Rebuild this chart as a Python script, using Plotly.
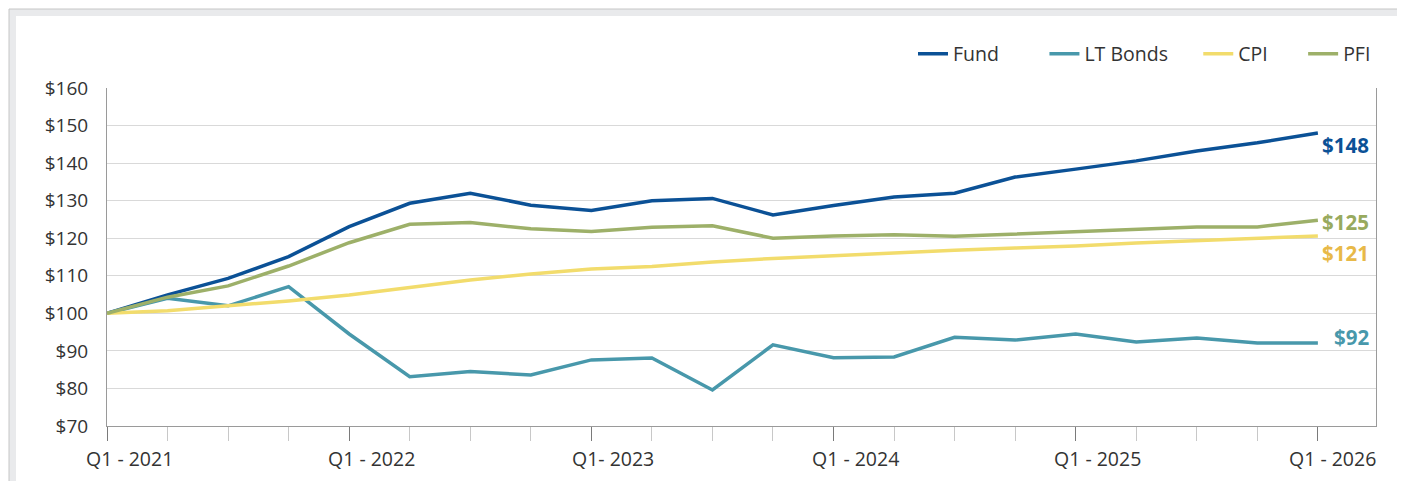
import plotly.graph_objects as go

quarters = list(range(21))
tick_positions = [0, 4, 8, 12, 16, 20]
tick_labels = ["Q1 - 2021", "Q1 - 2022", "Q1- 2023", "Q1 - 2024", "Q1 - 2025", "Q1 - 2026"]

fund = [100, 104.9, 109.3, 115.1, 123.1, 129.3, 132.0, 128.8, 127.4, 130.0, 130.6, 126.2,
        128.7, 131.0, 132.0, 136.3, 138.4, 140.6, 143.2, 145.4, 148.0]
lt_bonds = [100, 104.0, 102.0, 107.1, 94.5, 83.1, 84.5, 83.6, 87.6, 88.1, 79.6, 91.6,
            88.2, 88.4, 93.6, 92.9, 94.5, 92.4, 93.4, 92.1, 92.1]
cpi = [100, 100.7, 102.0, 103.3, 104.9, 107.0, 108.9, 110.5, 111.8, 112.5, 113.7, 114.6,
       115.4, 116.2, 116.8, 117.4, 117.9, 118.7, 119.3, 120.0, 120.6]
pfi = [100, 104.3, 107.3, 112.6, 118.8, 123.7, 124.2, 122.5, 121.8, 122.9, 123.3, 120.0,
       120.6, 120.9, 120.5, 121.1, 121.6, 122.4, 123.0, 123.0, 124.8]

NB = "\u00a0"
series = [
    ("Fund", fund, "#0b5196", 8),
    ("LT Bonds", lt_bonds, "#4898ab", 5),
    ("CPI", cpi, "#f2dc6c", 6),
    ("PFI", pfi, "#9db069", 0),
]
end_labels = [
    ("$148", fund[-1], "#0b5196", -12),
    ("$125", pfi[-1], "#98aa5e", -2),
    ("$121", cpi[-1], "#e8b948", -17),
    ("$92", lt_bonds[-1], "#4898ab", 6),
]

FONT = "Open Sans"
OFF = 8  # default page body margin
FW, FH = 1405 - OFF, 481 - OFF

fig = go.Figure()
for name, vals, col, pad in series:
    fig.add_trace(go.Scatter(x=quarters, y=vals, mode="lines", name=name + NB * pad,
                             line=dict(color=col, width=3.5)))

# plot area geometry in page px
L, R, T, B = 107, 1376, 88, 426
W, H = R - L, B - T
def px_x(p):
    return (p - L) / W
def px_y(p):
    return (B - p) / H

shapes = [
    dict(type="rect", xref="paper", yref="paper", x0=px_x(9), x1=px_x(1420), y0=px_y(500), y1=px_y(9),
         fillcolor="#e9eaec", line=dict(color="#c6c6c6", width=1), layer="below"),
    dict(type="rect", xref="paper", yref="paper", x0=px_x(16), x1=px_x(1420), y0=px_y(500), y1=px_y(16),
         fillcolor="#ffffff", line=dict(width=0), layer="below"),
]

annotations = []
for txt, v, col, ys in end_labels:
    annotations.append(dict(text="<b>" + txt + "</b>", x=px_x(1371), xref="paper", y=v, yref="y",
                            xanchor="right", yanchor="middle", yshift=ys, showarrow=False,
                            font=dict(family=FONT, size=20.5, color=col)))

# x tick labels (offset to the right of their ticks, last one kept inside the frame)
for i, (pos, lab) in enumerate(zip(tick_positions, tick_labels)):
    last = i == len(tick_positions) - 1
    annotations.append(dict(text=lab, xref="paper" if last else "x",
                            x=px_x(1378) if last else pos,
                            xanchor="right" if last else "center", xshift=0 if last else 22,
                            yref="paper", y=px_y(458), yanchor="middle", showarrow=False,
                            font=dict(family=FONT, size=19.5, color="#333333")))

fig.update_layout(
    width=FW, height=FH,
    margin=dict(l=L - OFF, r=1405 - R, t=T - OFF, b=481 - B),
    paper_bgcolor="white", plot_bgcolor="rgba(0,0,0,0)",
    font=dict(family=FONT, size=19, color="#333333"),
    shapes=shapes, annotations=annotations,
    legend=dict(orientation="h", x=1, xanchor="right", y=px_y(54), yanchor="middle",
                font=dict(family=FONT, size=19.5, color="#333333"), bgcolor="rgba(0,0,0,0)"),
    showlegend=True,
)
fig.update_xaxes(range=[0, 20.96], tickmode="array", tickvals=tick_positions,
                 showticklabels=False,
                 showgrid=False, showline=True, linecolor="#9a9a9a", linewidth=1,
                 ticks="outside", ticklen=14, tickcolor="#7a7a7a", tickwidth=1, zeroline=False,
                 minor=dict(tickmode="array", tickvals=quarters, ticks="outside", ticklen=14,
                            tickcolor="#c8c8c8", tickwidth=1, showgrid=False))
fig.update_yaxes(range=[70, 160], tickmode="array", tickvals=list(range(70, 161, 10)),
                 ticktext=["$" + str(v) for v in range(70, 161, 10)],
                 showgrid=True, gridcolor="#d9d9d9", gridwidth=1,
                 showline=True, linecolor="#9a9a9a", linewidth=1, mirror=True,
                 ticks="", ticklabelstandoff=14, zeroline=False,
                 tickfont=dict(family=FONT, size=19, color="#333333"))

fig.write_html("out.html")
